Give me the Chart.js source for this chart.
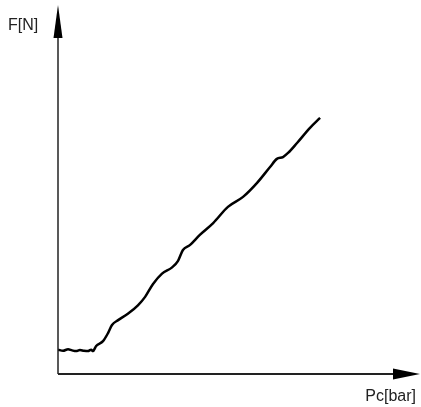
<!DOCTYPE html>
<html>
<head>
<meta charset="utf-8">
<script src="https://cdn.jsdelivr.net/npm/chart.js@4.4.0/dist/chart.umd.min.js"></script>
<style>
  html, body { margin: 0; padding: 0; background: #fff; }
  #wrap { width: 421px; height: 407px; position: relative; }
</style>
</head>
<body>
<div id="wrap"><canvas id="myChart"></canvas></div>
<script>
// pressure (Pc) vs force (F), values in % of axis length
var pc = [0, 1.4, 2.8, 3.9, 5.0, 6.1, 7.2, 8.3, 9.2, 9.7, 10.6, 12.5, 13.9, 15.0, 16.7, 19.4, 22.2, 24.2, 26.4, 28.9, 31.7, 33.3, 34.7, 36.7, 39.4, 43.1, 47.2, 51.4, 55.3, 58.9, 60.8, 62.5, 63.9, 66.4, 70.0, 72.8];
var force = [6.6, 6.3, 6.7, 6.4, 6.2, 6.5, 6.3, 6.2, 6.6, 6.2, 7.6, 8.9, 11.1, 13.3, 14.6, 16.3, 18.6, 20.9, 24.4, 27.2, 28.9, 30.6, 33.6, 35.0, 37.7, 40.9, 45.3, 48.0, 51.8, 56.1, 58.3, 58.8, 59.9, 62.6, 66.7, 69.4];
var xLabel = "Pc[bar]";
var yLabel = "F[N]";

var points = [];
for (var i = 0; i < pc.length; i++) {
    points.push({x: pc[i], y: force[i]});
}

// draws the two arrowed axes and their labels
var arrowAxes = {
    id: "arrowAxes",
    afterDraw: function(chart) {
        var ctx = chart.ctx;
        var a = chart.chartArea;
        ctx.save();
        ctx.fillStyle = "#000";
        ctx.strokeStyle = "#222";

        // y axis
        ctx.lineWidth = 1.5;
        ctx.beginPath();
        ctx.moveTo(a.left, a.bottom);
        ctx.lineTo(a.left, a.top + 30);
        ctx.stroke();
        ctx.beginPath();
        ctx.moveTo(a.left, a.top);
        ctx.lineTo(a.left - 4.5, a.top + 33);
        ctx.lineTo(a.left + 4.5, a.top + 33);
        ctx.closePath();
        ctx.fill();

        // x axis
        ctx.lineWidth = 2;
        ctx.beginPath();
        ctx.moveTo(a.left, a.bottom);
        ctx.lineTo(a.right - 22, a.bottom);
        ctx.stroke();
        ctx.beginPath();
        ctx.moveTo(a.right + 2, a.bottom);
        ctx.lineTo(a.right - 25, a.bottom - 5.5);
        ctx.lineTo(a.right - 25, a.bottom + 5.5);
        ctx.closePath();
        ctx.fill();

        ctx.fillStyle = "#222";
        ctx.font = "16px 'Liberation Sans', Arial, sans-serif";
        ctx.textBaseline = "middle";
        ctx.textAlign = "left";
        ctx.fillText(yLabel, 8, 26);
        ctx.textAlign = "right";
        ctx.fillText(xLabel, a.right - 2, a.bottom + 23);
        ctx.restore();
    }
};

new Chart("myChart", {
    type: "line",
    data: {
        datasets: [{
            data: points,
            borderColor: "#000",
            borderWidth: 2.5,
            pointRadius: 0,
            fill: false,
            cubicInterpolationMode: "monotone"
        }]
    },
    options: {
        responsive: true,
        maintainAspectRatio: false,
        animation: false,
        layout: {padding: {left: 58, right: 3, top: 5, bottom: 33}},
        plugins: {legend: {display: false}, tooltip: {enabled: false}},
        scales: {
            x: {type: "linear", min: 0, max: 100, display: false},
            y: {min: 0, max: 100, display: false}
        }
    },
    plugins: [arrowAxes]
});
</script>
</body>
</html>
